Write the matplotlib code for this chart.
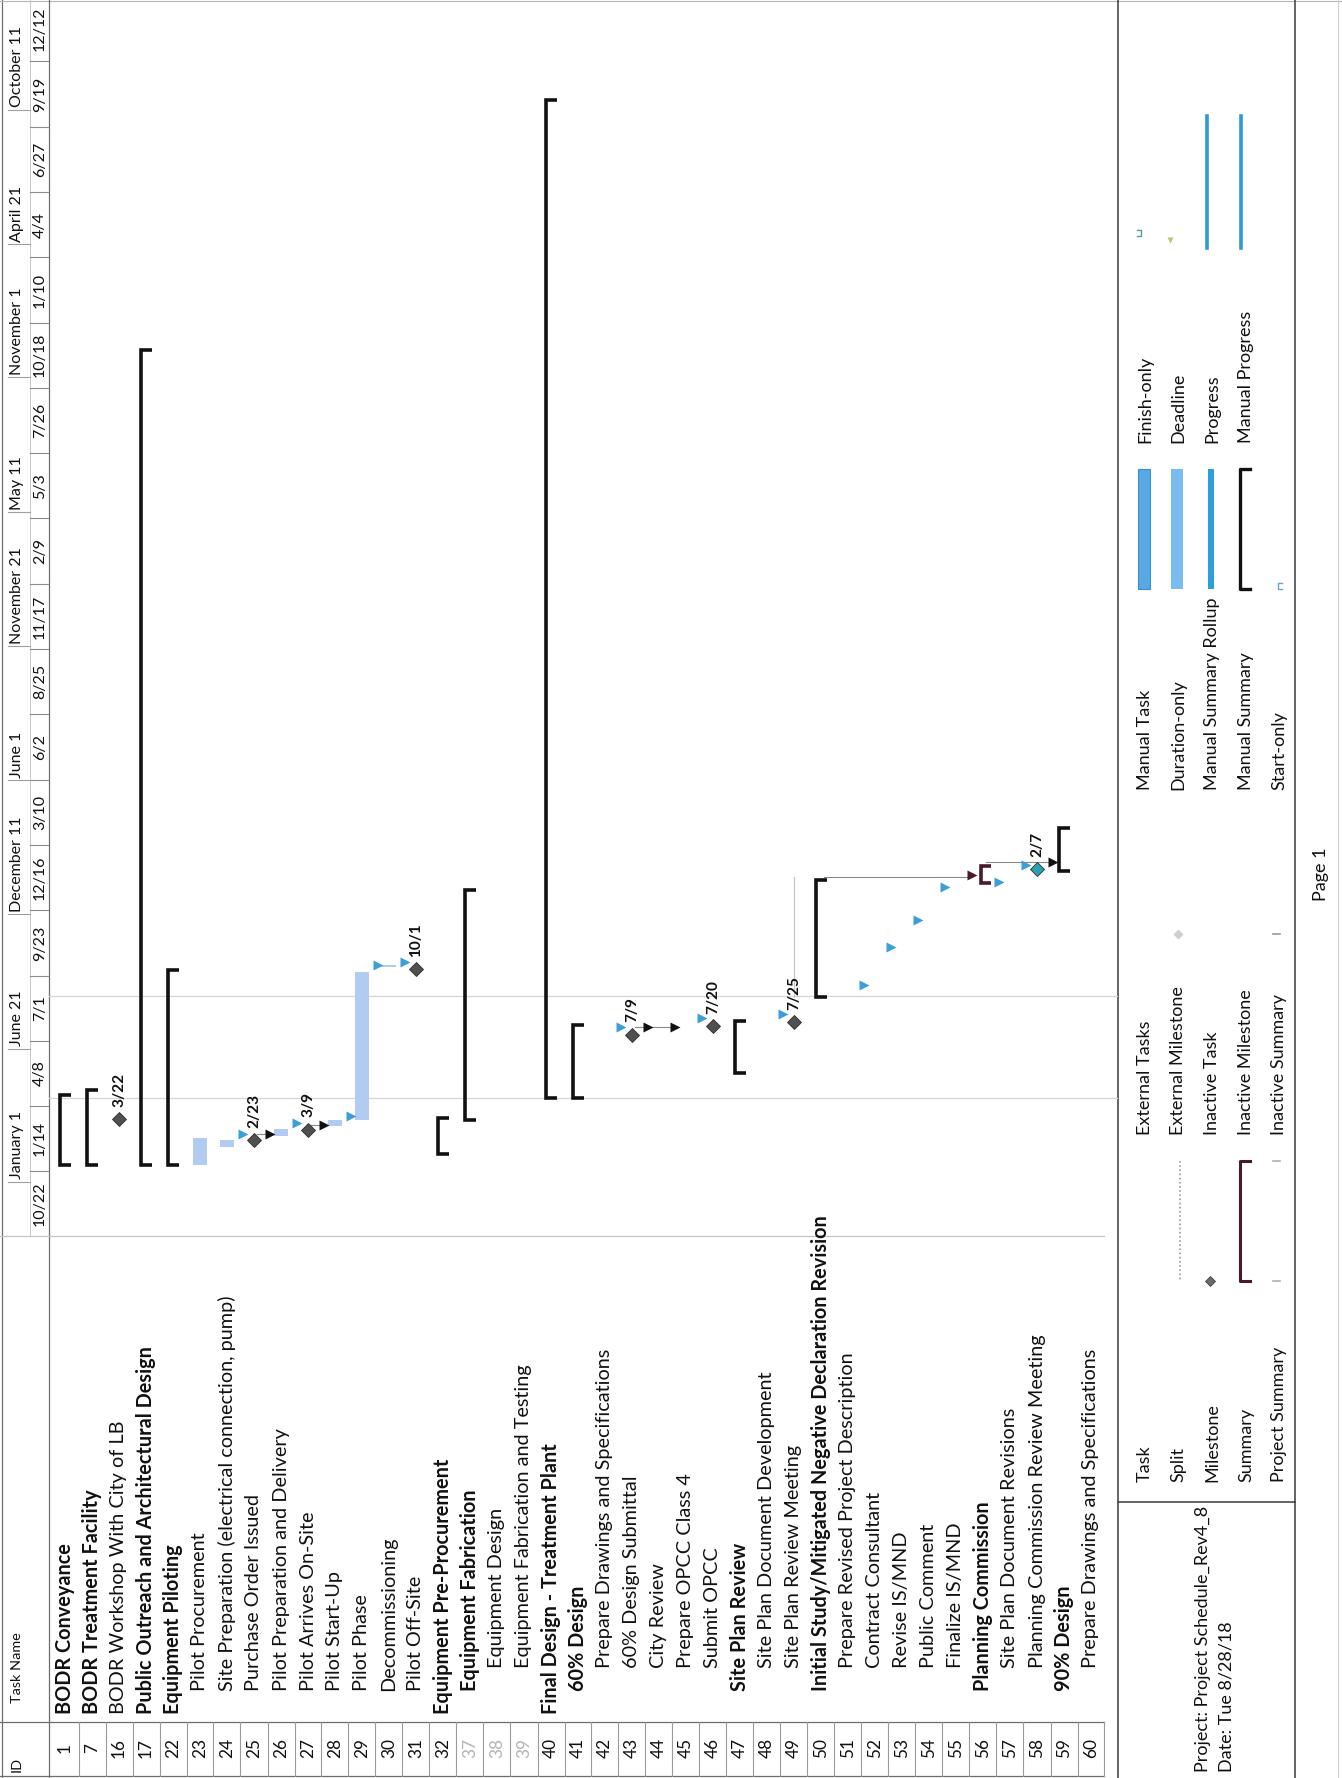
"""Scanned MS Project Gantt page (BODR schedule Rev4_8), drawn rotated a quarter turn."""

import matplotlib

matplotlib.use("Agg")

import matplotlib.dates as mdates
import matplotlib.pyplot as plt
import numpy as np

FONT = "Lato"
plt.rcParams["font.family"] = [FONT, "DejaVu Sans"]

# ---------------------------------------------------------------- data
ROW_IDS = [1, 7, 16, 17, 22, 23, 24, 25, 26, 27, 28, 29, 30, 31, 32, 37, 38, 39, 40,
           41, 42, 43, 44, 45, 46, 47, 48, 49, 50, 51, 52, 53, 54, 55, 56, 57, 58, 59, 60]
ROW_NAMES = [
    "BODR Conveyance",
    "BODR Treatment Facility",
    "BODR Workshop With City of LB",
    "Public Outreach and Architectural Design",
    "Equipment Piloting",
    "Pilot Procurement",
    "Site Preparation (electrical connection, pump)",
    "Purchase Order Issued",
    "Pilot Preparation and Delivery",
    "Pilot Arrives On-Site",
    "Pilot Start-Up",
    "Pilot Phase",
    "Decommissioning",
    "Pilot Off-Site",
    "Equipment Pre-Procurement",
    "Equipment Fabrication",
    "Equipment Design",
    "Equipment Fabrication and Testing",
    "Final Design - Treatment Plant",
    "60% Design",
    "Prepare Drawings and Specifications",
    "60% Design Submittal",
    "City Review",
    "Prepare OPCC Class 4",
    "Submit OPCC",
    "Site Plan Review",
    "Site Plan Document Development",
    "Site Plan Review Meeting",
    "Initial Study/Mitigated Negative Declaration Revision",
    "Prepare Revised Project Description",
    "Contract Consultant",
    "Revise IS/MND",
    "Public Comment",
    "Finalize IS/MND",
    "Planning Commission",
    "Site Plan Document Revisions",
    "Planning Commission Review Meeting",
    "90% Design",
    "Prepare Drawings and Specifications",
]
ROW_LEVELS = [0, 0, 0, 0, 0, 1, 1, 1, 1, 1, 1, 1, 1, 1, 0, 1, 2, 2, 0,
              1, 2, 2, 2, 2, 2, 1, 2, 2, 1, 2, 2, 2, 2, 2, 1, 2, 2, 1, 2]
BOLD_IDS = [1, 7, 17, 22, 32, 37, 40, 41, 47, 50, 56, 59]
INACTIVE_IDS = [37, 38, 39]

# manual summaries (black brackets)
SUMMARY_IDS = [1, 7, 17, 22, 32, 37, 40, 41, 47, 50, 59]
SUMMARY_STARTS = ["2018-01-22", "2018-01-22", "2018-01-22", "2018-01-22", "2018-02-06",
                  "2018-03-21", "2018-04-19", "2018-04-19", "2018-05-21", "2018-08-27",
                  "2019-02-05"]
SUMMARY_FINISHES = ["2018-04-23", "2018-04-29", "2020-12-06", "2018-09-30", "2018-03-24",
                    "2019-01-11", "2021-10-23", "2018-07-21", "2018-07-27", "2019-01-24",
                    "2019-04-01"]

# auto-scheduled summary (maroon bracket)
AUTO_SUMMARY_IDS = [56]
AUTO_SUMMARY_STARTS = ["2019-01-20"]
AUTO_SUMMARY_FINISHES = ["2019-02-11"]

# task bars (pale blue, washed out by the scan)
TASK_IDS = [23, 24, 26, 28, 29, 30]
TASK_STARTS = ["2018-01-22", "2018-02-14", "2018-03-01", "2018-03-14", "2018-03-21",
               "2018-10-04"]
TASK_FINISHES = ["2018-02-26", "2018-02-23", "2018-03-10", "2018-03-21", "2018-09-28",
                 "2018-10-07"]

MILESTONE_IDS = [16, 25, 27, 31, 43, 46, 49, 58]
MILESTONE_DATES = ["2018-03-22", "2018-02-23", "2018-03-09", "2018-10-01", "2018-07-09",
                   "2018-07-20", "2018-07-25", "2019-02-07"]
TEAL_MILESTONE_IDS = [58]

# link arrowheads at successor starts
ARROW_BLACK_IDS = [26, 28, 44, 45, 59]
ARROW_BLACK_DATES = ["2018-03-03", "2018-03-15", "2018-07-19", "2018-07-19", "2019-02-16"]
ARROW_BLUE_IDS = [25, 27, 29, 30, 31, 43, 46, 49, 52, 53, 54, 55, 57, 58]
ARROW_BLUE_DATES = ["2018-03-03", "2018-03-17", "2018-03-26", "2018-10-07", "2018-10-10",
                    "2018-07-19", "2018-07-30", "2018-08-04", "2018-09-11", "2018-10-30",
                    "2018-12-04", "2019-01-15", "2019-01-21", "2019-02-12"]
ARROW_MAROON_IDS = [56]
ARROW_MAROON_DATES = ["2019-01-31"]

LINK_FROM_IDS = [25, 27, 43, 50, 56]
LINK_TO_IDS = [26, 28, 45, 56, 59]
LINK_DATES = ["2018-03-03", "2018-03-15", "2018-07-19", "2019-01-28", "2019-02-16"]
VLINK_IDS = [49]
VLINK_STARTS = ["2018-08-26"]
VLINK_FINISHES = ["2019-01-28"]

BOTTOM_TIER_DATES = ["2017-10-22", "2018-01-14", "2018-04-08", "2018-07-01", "2018-09-23",
                     "2018-12-16", "2019-03-10", "2019-06-02", "2019-08-25", "2019-11-17",
                     "2020-02-09", "2020-05-03", "2020-07-26", "2020-10-18", "2021-01-10",
                     "2021-04-04", "2021-06-27", "2021-09-19", "2021-12-12"]
TOP_TIER_DATES = ["2018-01-01", "2018-06-21", "2018-12-11", "2019-06-01", "2019-11-21",
                  "2020-05-11", "2020-11-01", "2021-04-21", "2021-10-11"]
GRIDLINE_DATES = ["2018-04-19", "2018-08-28"]

LEGEND_GROUPS = [
    ["Task", "Split", "Milestone", "Summary", "Project Summary"],
    ["External Tasks", "External Milestone", "Inactive Task", "Inactive Milestone",
     "Inactive Summary"],
    ["Manual Task", "Duration-only", "Manual Summary Rollup", "Manual Summary",
     "Start-only"],
    ["Finish-only", "Deadline", "Progress", "Manual Progress"],
]
PROJECT_LINES = ["Project: Project Schedule_Rev4_8", "Date: Tue 8/28/18"]
PAGE_LABEL = "Page 1"

# ---------------------------------------------------------------- layout (pixels, top-left origin)
FIG_W, FIG_H, DPI = 1342, 1778, 100
HEADER_X = 49
TIER_X = 30
ROWS_RIGHT = 1118
TABLE_RIGHT = 1104
CHART_BOTTOM = 1236
ID_TOP = 1722
ROW0_X = 65
ROW_PITCH = 27.0
VIEW_START = "2017-10-23"
VIEW_END = "2022-03-01"
NAME_BASE_Y = 1714
NAME_INDENT = 23
LEGEND_RIGHT = 1295
LEGEND_SPLIT_Y = 1502
LEGEND_LABEL_Y = [1482, 1135, 790, 443]
LEGEND_ITEM_X = [1145, 1178, 1212, 1246, 1279]

BLUE_PALE = "#b2cbf0"
BLUE_ARROW = "#3c9fd8"
MAROON = "#4a1a28"
INK = "#111111"


def _num(value: str) -> float:
    return mdates.date2num(np.datetime64(value))


def _frac(x0: float, y0: float, x1: float, y1: float) -> list[float]:
    return [x0 / FIG_W, 1 - y1 / FIG_H, (x1 - x0) / FIG_W, (y1 - y0) / FIG_H]


def _pixel_axes(fig, x0, y0, x1, y1):
    ax = fig.add_axes(_frac(x0, y0, x1, y1))
    ax.set_xlim(x0, x1)
    ax.set_ylim(y1, y0)
    ax.axis("off")
    return ax


def _fit(fig, text: str, target_px: float, weight: str = "normal") -> float:
    probe = fig.text(0, 0, text, fontsize=10, fontweight=weight)
    width = probe.get_window_extent(fig.canvas.get_renderer()).width
    probe.remove()
    return 10.0 * target_px / width


def _bracket(ax, x, lo, hi, half, color, lw):
    ax.plot([x + half, x - half * 0.85, x - half * 0.85, x + half], [hi, hi, lo, lo],
            color=color, lw=lw, solid_joinstyle="miter", solid_capstyle="butt", zorder=4)


def main() -> None:
    fig = plt.figure(figsize=(FIG_W / DPI, FIG_H / DPI), dpi=DPI)
    fig.patch.set_facecolor("white")

    name_size = _fit(fig, ROW_NAMES[6], 398)
    id_size = _fit(fig, "60", 20)
    scale_size = _fit(fig, "December 11", 96)
    label_size = _fit(fig, "10/1", 34, "bold")
    legend_size = _fit(fig, "Manual Summary Rollup", 192)
    project_size = _fit(fig, PROJECT_LINES[0], 266)
    header_size = _fit(fig, "Task Name", 70)

    page = _pixel_axes(fig, 0, 0, FIG_W, FIG_H)
    line = dict(color="#6e6e6e", lw=0.9)
    page.plot([2, 2], [0, FIG_H], **line)
    page.plot([0, FIG_W], [1, 1], color="#b5b5b5", lw=0.8)
    page.plot([0, TABLE_RIGHT], [FIG_H - 2, FIG_H - 2], **line)
    page.plot([HEADER_X, HEADER_X], [0, FIG_H], **line)
    page.plot([TIER_X, TIER_X], [0, CHART_BOTTOM], color="#c9c9c9", lw=0.7)
    page.plot([0, TABLE_RIGHT], [CHART_BOTTOM, CHART_BOTTOM], color="#c4c4c4", lw=0.9)
    page.plot([0, TABLE_RIGHT], [ID_TOP, ID_TOP], **line)
    page.plot([ROWS_RIGHT, ROWS_RIGHT], [0, FIG_H], color="#3a3a3a", lw=1.1)
    page.plot([LEGEND_RIGHT, LEGEND_RIGHT], [0, FIG_H], color="#3a3a3a", lw=1.1)
    page.plot([ROWS_RIGHT, LEGEND_RIGHT], [LEGEND_SPLIT_Y, LEGEND_SPLIT_Y], color="#3a3a3a", lw=1.1)
    page.plot([FIG_W - 4, FIG_W - 4], [0, FIG_H], color="#d0d0d0", lw=0.8)

    row_of = {task_id: i for i, task_id in enumerate(ROW_IDS)}
    x_lo = (HEADER_X - ROW0_X) / ROW_PITCH
    x_hi = (ROWS_RIGHT - ROW0_X) / ROW_PITCH

    # ---- gantt chart: x = row, y = date (time runs upward)
    chart = fig.add_axes(_frac(HEADER_X, 0, ROWS_RIGHT, CHART_BOTTOM))
    chart.set_xlim(x_lo, x_hi)
    chart.set_ylim(_num(VIEW_START), _num(VIEW_END))
    chart.axis("off")

    for value in GRIDLINE_DATES:
        chart.axhline(_num(value), color="#d6d6d6", lw=0.9, zorder=1)

    for task_id, start, finish in zip(TASK_IDS, TASK_STARTS, TASK_FINISHES):
        r = row_of[task_id]
        chart.bar(r, _num(finish) - _num(start), bottom=_num(start), width=0.5,
                  color=BLUE_PALE, edgecolor="none", zorder=3)

    for task_id, start, finish in zip(SUMMARY_IDS, SUMMARY_STARTS, SUMMARY_FINISHES):
        _bracket(chart, row_of[task_id], _num(start), _num(finish), 0.22, INK, 2.6)
    for task_id, start, finish in zip(AUTO_SUMMARY_IDS, AUTO_SUMMARY_STARTS, AUTO_SUMMARY_FINISHES):
        _bracket(chart, row_of[task_id] + 0.1, _num(start), _num(finish), 0.2, MAROON, 2.6)

    for from_id, to_id, value in zip(LINK_FROM_IDS, LINK_TO_IDS, LINK_DATES):
        chart.plot([row_of[from_id] + 0.1, row_of[to_id] - 0.4], [_num(value)] * 2,
                   color="#8a8a8a", lw=0.8, zorder=2)
    for task_id, start, finish in zip(VLINK_IDS, VLINK_STARTS, VLINK_FINISHES):
        chart.plot([row_of[task_id]] * 2, [_num(start), _num(finish)],
                   color="#c6c6c6", lw=0.9, zorder=2)

    for ids, dates, color in ((ARROW_BLACK_IDS, ARROW_BLACK_DATES, INK),
                              (ARROW_BLUE_IDS, ARROW_BLUE_DATES, BLUE_ARROW),
                              (ARROW_MAROON_IDS, ARROW_MAROON_DATES, MAROON)):
        rows = [row_of[i] - 0.4 for i in ids]
        chart.plot(rows, [_num(v) for v in dates], ls="none", marker=">", ms=7,
                   color=color, mec="none", zorder=5)

    for task_id, value in zip(MILESTONE_IDS, MILESTONE_DATES):
        r = row_of[task_id]
        color = "#2aa0b2" if task_id in TEAL_MILESTONE_IDS else "#505050"
        chart.plot(r, _num(value), marker="D", ms=7, color=color, mec="#2e2e2e",
                   mew=0.6, zorder=6)
        stamp = np.datetime64(value).astype(object)
        chart.annotate(f"{stamp.month}/{stamp.day}", (r, _num(value)), xytext=(0, 9),
                       textcoords="offset points", rotation=90, ha="center", va="bottom",
                       fontsize=label_size, fontweight="bold", color=INK, zorder=6)

    # ---- timescale header
    scale = fig.add_axes(_frac(0, 0, HEADER_X, CHART_BOTTOM), sharey=chart)
    scale.set_xlim(0, HEADER_X)
    scale.axis("off")
    for value in BOTTOM_TIER_DATES:
        t = _num(value)
        scale.plot([TIER_X, HEADER_X], [t, t], color="#8c8c8c", lw=0.8)
        stamp = np.datetime64(value).astype(object)
        scale.text(40, t + 42, f"{stamp.month}/{stamp.day}", rotation=90, ha="center",
                   va="center", fontsize=scale_size, color=INK)
    for value in TOP_TIER_DATES:
        t = _num(value)
        scale.plot([8, TIER_X], [t, t], color="#a0a0a0", lw=0.8)
        stamp = np.datetime64(value).astype(object)
        scale.text(17, t + 3, f"{stamp:%B} {stamp.day}", rotation=90, ha="center",
                   va="bottom", fontsize=scale_size, color=INK)

    # ---- task table
    table = fig.add_axes(_frac(HEADER_X, CHART_BOTTOM, ROWS_RIGHT, FIG_H), sharex=chart)
    table.set_ylim(FIG_H, CHART_BOTTOM)
    table.axis("off")
    for r, (task_id, name, level) in enumerate(zip(ROW_IDS, ROW_NAMES, ROW_LEVELS)):
        weight = "bold" if task_id in BOLD_IDS else "normal"
        table.text(r, NAME_BASE_Y - NAME_INDENT * level, name, rotation=90, ha="center",
                   va="bottom", fontsize=name_size, fontweight=weight, color=INK)
        id_color = "#b4b4b4" if task_id in INACTIVE_IDS else INK
        table.text(r, 1748, str(task_id), rotation=90, ha="center", va="center",
                   fontsize=id_size, color=id_color)
        table.plot([r + 0.5, r + 0.5], [ID_TOP, FIG_H - 2], color="#9a9a9a", lw=0.8)

    head = _pixel_axes(fig, 0, CHART_BOTTOM, HEADER_X, FIG_H)
    head.text(17, 1703, "Task Name", rotation=90, ha="center", va="bottom",
              fontsize=header_size, color=INK)
    head.text(17, 1772, "ID", rotation=90, ha="center", va="bottom",
              fontsize=header_size, color=INK)

    # ---- legend box
    legend = _pixel_axes(fig, ROWS_RIGHT, 0, FIG_W, FIG_H)
    for group, label_y in zip(LEGEND_GROUPS, LEGEND_LABEL_Y):
        lo, hi = label_y - 321, label_y - 201
        for label, x in zip(group, LEGEND_ITEM_X):
            legend.text(x, label_y, label, rotation=90, ha="center", va="bottom",
                        fontsize=legend_size, color=INK)
            _legend_symbol(legend, label, x, lo, hi)

    for text, x in zip(PROJECT_LINES, [1203, 1226]):
        legend.text(x, 1772, text, rotation=90, ha="center", va="bottom",
                    fontsize=project_size, color=INK)
    legend.text(1321, 874, PAGE_LABEL, rotation=90, ha="center", va="center",
                fontsize=legend_size, color=INK)

    fig.savefig("out.png", dpi=DPI, facecolor="white")
    plt.close(fig)


def _legend_symbol(ax, label, x, lo, hi):
    if label == "Split":
        ax.plot([x + 2, x + 2], [lo, hi], color="#9a9a9a", lw=1.2, ls=(0, (1, 1.5)))
    elif label == "Milestone":
        ax.plot(x - 2, hi, marker="D", ms=5, color="#6a6a6a", mec="#333333", mew=0.5)
    elif label == "Summary":
        ax.plot([x + 4, x - 6, x - 6, x + 4], [lo, lo, hi, hi], color=MAROON, lw=2.2)
    elif label == "Project Summary":
        for y in (lo, hi):
            ax.plot([x - 6, x + 1], [y, y], color="#b0b0b0", lw=1.2)
    elif label == "External Milestone":
        ax.plot(x, hi, marker="D", ms=5, color="#cfcfcf", mec="none")
    elif label == "Inactive Summary":
        ax.plot([x - 6, x + 1], [hi, hi], color="#9a9a9a", lw=1.2)
    elif label == "Manual Task":
        ax.add_patch(plt.Rectangle((x - 7, lo), 12, hi - lo, facecolor="#58a8e6",
                                   edgecolor="#3d8fcc", lw=0.8))
    elif label == "Duration-only":
        ax.add_patch(plt.Rectangle((x - 7, lo), 12, hi - lo, facecolor="#7bbcf0",
                                   edgecolor="none"))
    elif label == "Manual Summary Rollup":
        ax.add_patch(plt.Rectangle((x - 4, lo), 6, hi - lo, facecolor="#2f9edc",
                                   edgecolor="none"))
    elif label == "Manual Summary":
        ax.plot([x + 4, x - 6, x - 6, x + 4], [lo, lo, hi, hi], color=INK, lw=2.4)
    elif label == "Start-only":
        ax.plot([x + 3, x - 1, x - 1, x + 3], [hi - 6, hi - 6, hi, hi], color="#62a7c8", lw=1.0)
    elif label == "Finish-only":
        ax.plot([x - 8, x - 4, x - 4, x - 8], [hi - 12, hi - 12, hi - 6, hi - 6],
                color="#5a9a9a", lw=1.0)
    elif label == "Deadline":
        ax.plot(x - 8, hi - 2, marker="v", ms=5, color="#b9c96e", mec="none")
    elif label in ("Progress", "Manual Progress"):
        ax.plot([x - 5, x - 5], [lo - 6, hi + 6], color="#2d9bd7", lw=2.6)


if __name__ == "__main__":
    main()
